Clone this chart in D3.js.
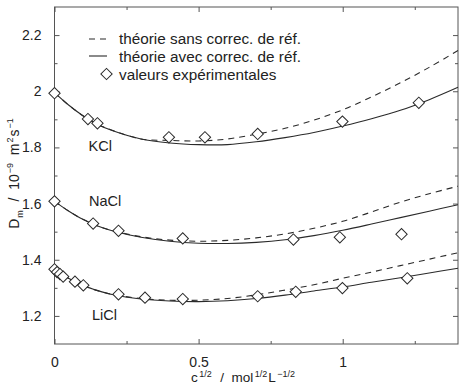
<!DOCTYPE html>
<html>
<head>
<meta charset="utf-8">
<script src="https://cdn.jsdelivr.net/npm/d3@7"></script>
<style>
  body { margin: 0; background: #fff; }
  svg text { font-family: "Liberation Sans", Arial, sans-serif; fill: #222; white-space: pre; }
</style>
</head>
<body>
<div id="chart"></div>
<script>
// Theory curves, sampled from the figure
const curveX = [0, 0.05, 0.1, 0.15, 0.2, 0.3, 0.4, 0.5, 0.6, 0.7, 0.8, 0.9, 1.0, 1.1, 1.2, 1.3, 1.4];
const kclSolid = [1.995, 1.950, 1.912, 1.882, 1.860, 1.830, 1.816, 1.810, 1.810, 1.820, 1.835, 1.853, 1.876, 1.902, 1.932, 1.970, 2.014];
const kclDashed = [1.995, 1.950, 1.912, 1.882, 1.861, 1.830, 1.825, 1.823, 1.830, 1.847, 1.868, 1.897, 1.934, 1.980, 2.030, 2.085, 2.145];
const naclSolid = [1.608, 1.573, 1.543, 1.520, 1.503, 1.480, 1.466, 1.459, 1.458, 1.462, 1.471, 1.486, 1.505, 1.527, 1.550, 1.573, 1.596];
const naclDashed = [1.608, 1.573, 1.543, 1.520, 1.504, 1.482, 1.470, 1.466, 1.469, 1.478, 1.492, 1.512, 1.537, 1.570, 1.605, 1.635, 1.662];
const liclSolid = [1.365, 1.333, 1.308, 1.290, 1.276, 1.260, 1.253, 1.251, 1.254, 1.262, 1.274, 1.289, 1.303, 1.320, 1.336, 1.353, 1.370];
const liclDashed = [1.365, 1.333, 1.308, 1.290, 1.277, 1.262, 1.256, 1.256, 1.262, 1.275, 1.292, 1.311, 1.334, 1.356, 1.379, 1.402, 1.425];

// Experimental values
const kclX = [0, 0.116, 0.149, 0.397, 0.522, 0.705, 0.999, 1.264];
const kclY = [1.993, 1.901, 1.886, 1.836, 1.836, 1.848, 1.892, 1.959];
const naclX = [0, 0.134, 0.222, 0.445, 0.829, 0.990, 1.204];
const naclY = [1.608, 1.529, 1.503, 1.476, 1.472, 1.480, 1.491];
const liclX = [0, 0.009, 0.019, 0.03, 0.071, 0.1, 0.222, 0.314, 0.445, 0.705, 0.837, 0.999, 1.224];
const liclY = [1.366, 1.356, 1.349, 1.340, 1.322, 1.309, 1.277, 1.265, 1.260, 1.270, 1.286, 1.299, 1.334];

// Ticks and labels
const xMajor = [0, 0.5, 1];
const xMinor = [0.25, 0.75, 1.25];
const yMajor = [1.2, 1.4, 1.6, 1.8, 2.0, 2.2];
const yMinor = [1.3, 1.5, 1.7, 1.9, 2.1];
const saltLabels = ["KCl", "NaCl", "LiCl"];
const saltLabelPos = [[0.118, 1.787], [0.12, 1.590], [0.13, 1.187]];
const legendLabels = ["théorie sans correc. de réf.", "théorie avec correc. de réf.", "valeurs expérimentales"];

const W = 465, H = 384;
const plotLeft = 54.5, plotRight = 458, plotTop = 7, plotBottom = 344;

const svg = d3.select("#chart").append("svg")
  .attr("width", W).attr("height", H);

const x = d3.scaleLinear().domain([0, 1.4]).range([plotLeft, plotRight]);
const y = d3.scaleLinear().domain([1.1, 2.3]).range([plotBottom, plotTop]);

const fmt = d => d === 0 ? "0" : d3.format("~g")(d);
const axisColor = "#555";
const lineColor = "#2a2a2a";

// inward ticks on all four sides
function drawAxis(axisFn, scale, ticks, size, transform, labels) {
  const g = svg.append("g")
    .attr("transform", transform)
    .call(axisFn(scale).tickValues(ticks).tickSize(size).tickPadding(labels ? 8 - size : 0)
      .tickFormat(labels ? fmt : ""));
  g.select(".domain").remove();
  g.selectAll("line").attr("stroke", axisColor);
  g.selectAll("text").style("font-size", "14px").attr("fill", "#222");
  return g;
}
drawAxis(d3.axisBottom, x, xMajor, -5, `translate(0,${plotBottom})`, true);
drawAxis(d3.axisBottom, x, xMinor, -3, `translate(0,${plotBottom})`, false);
drawAxis(d3.axisTop, x, xMajor, -5, `translate(0,${plotTop})`, false);
drawAxis(d3.axisTop, x, xMinor, -3, `translate(0,${plotTop})`, false);
drawAxis(d3.axisLeft, y, yMajor, -5, `translate(${plotLeft},0)`, true);
drawAxis(d3.axisLeft, y, yMinor, -3, `translate(${plotLeft},0)`, false);
drawAxis(d3.axisRight, y, yMajor, -5, `translate(${plotRight},0)`, false);
drawAxis(d3.axisRight, y, yMinor, -3, `translate(${plotRight},0)`, false);

svg.append("rect")
  .attr("x", plotLeft).attr("y", plotTop)
  .attr("width", plotRight - plotLeft).attr("height", plotBottom - plotTop)
  .attr("fill", "none").attr("stroke", axisColor).attr("stroke-width", 1);

// curves
const line = d3.line()
  .x(d => x(d[0])).y(d => y(d[1]))
  .curve(d3.curveCatmullRom.alpha(0.5));

const curves = [
  [kclDashed, true], [kclSolid, false],
  [naclDashed, true], [naclSolid, false],
  [liclDashed, true], [liclSolid, false]
];
curves.forEach(([vals, dashed]) => {
  svg.append("path")
    .datum(curveX.map((c, i) => [c, vals[i]]))
    .attr("d", line)
    .attr("fill", "none")
    .attr("stroke", lineColor)
    .attr("stroke-width", 1.1)
    .attr("stroke-dasharray", dashed ? "6,5" : null);
});

// diamonds
const diamond = d3.symbol(d3.symbolSquare, 64);
const points = []
  .concat(kclX.map((v, i) => [v, kclY[i]]))
  .concat(naclX.map((v, i) => [v, naclY[i]]))
  .concat(liclX.map((v, i) => [v, liclY[i]]));
svg.append("g").selectAll("path")
  .data(points)
  .join("path")
  .attr("d", diamond)
  .attr("transform", d => `translate(${x(d[0])},${y(d[1])}) rotate(45)`)
  .attr("fill", "#fff")
  .attr("stroke", lineColor)
  .attr("stroke-width", 1);

// salt labels
svg.append("g").selectAll("text")
  .data(saltLabels)
  .join("text")
  .text(d => d)
  .attr("x", (d, i) => x(saltLabelPos[i][0]))
  .attr("y", (d, i) => y(saltLabelPos[i][1]))
  .style("font-size", "14.5px");

// legend
const legend = svg.append("g").attr("transform", "translate(89,39)");
legend.append("line").attr("x1", 0).attr("x2", 18).attr("y1", 0).attr("y2", 0)
  .attr("stroke", lineColor).attr("stroke-width", 1.1).attr("stroke-dasharray", "6,5");
legend.append("line").attr("x1", 0).attr("x2", 18).attr("y1", 17).attr("y2", 17)
  .attr("stroke", lineColor).attr("stroke-width", 1.1);
legend.append("path").attr("d", diamond)
  .attr("transform", "translate(17.5,35) rotate(45)")
  .attr("fill", "#fff").attr("stroke", lineColor);
legend.selectAll("text.leg")
  .data(legendLabels)
  .join("text")
  .attr("class", "leg")
  .text(d => d)
  .attr("x", 30)
  .attr("y", (d, i) => i * 18 + 5)
  .style("font-size", "15.3px");

// axis titles (superscripts/subscripts as tspans)
function addPart(t, text, small, dy, dx) {
  const s = t.append("tspan").text(text);
  if (small) s.style("font-size", "9px");
  if (dy) s.attr("dy", dy);
  if (dx) s.attr("dx", dx);
  return s;
}
const yTitle = svg.append("text")
  .attr("transform", `translate(19,${(plotTop + plotBottom) / 2 - 2}) rotate(-90)`)
  .attr("text-anchor", "middle")
  .style("font-size", "14px");
addPart(yTitle, "D");
addPart(yTitle, "m", true, 4, 1);
addPart(yTitle, "  /  10", false, -4, 1);
addPart(yTitle, "−9", true, -6, 1);
addPart(yTitle, "  m", false, 6);
addPart(yTitle, "2", true, -6, 1);
addPart(yTitle, "s", false, 6, 1);
addPart(yTitle, "−1", true, -6, 1);

const xTitle = svg.append("text")
  .attr("x", 243).attr("y", 382)
  .attr("text-anchor", "middle")
  .style("font-size", "13.5px");
addPart(xTitle, "c");
addPart(xTitle, "1/2", true, -5, 1.5);
addPart(xTitle, "  /  mol", false, 5, 1);
addPart(xTitle, "1/2", true, -5, 1.5);
addPart(xTitle, "L", false, 5, 1);
addPart(xTitle, "−1/2", true, -5, 1.5);
</script>
</body>
</html>
